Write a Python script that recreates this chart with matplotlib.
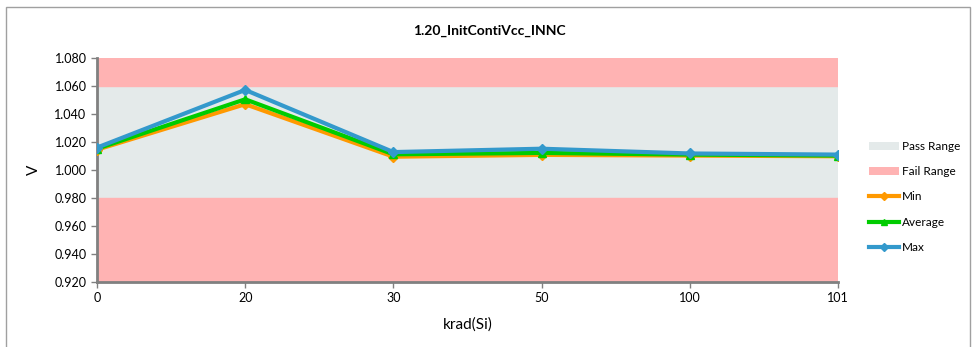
import matplotlib.pyplot as plt
from matplotlib.patches import Patch, Rectangle
from matplotlib.lines import Line2D

# chart data
categories = ['0', '20', '30', '50', '100', '101']
min_vals = [1.0145, 1.047, 1.0095, 1.0108, 1.0103, 1.0098]
avg_vals = [1.0152, 1.0505, 1.0112, 1.0122, 1.0110, 1.0103]
max_vals = [1.0160, 1.0572, 1.0128, 1.0152, 1.0118, 1.0110]
pass_low, pass_high = 0.980, 1.060
y_min, y_max = 0.920, 1.080
y_ticks = [0.920, 0.940, 0.960, 0.980, 1.000, 1.020, 1.040, 1.060, 1.080]

plt.rcParams['font.family'] = ['Lato', 'DejaVu Sans']

fig = plt.figure(figsize=(9.79, 3.47), dpi=100)
ax = fig.add_axes([97 / 979, 1 - 282 / 347, (838 - 97) / 979, (282 - 58) / 347])

x = list(range(len(categories)))

# background bands
ax.axhspan(pass_low, pass_high, color='#E4EAEA', zorder=0)
ax.axhspan(y_min, pass_low, color='#FFB3B3', zorder=0)
ax.axhspan(pass_high, y_max, color='#FFB3B3', zorder=0)

ax.plot(x, min_vals, color='#FF9900', lw=3, marker='D', ms=5, label='Min', zorder=3)
ax.plot(x, avg_vals, color='#00CC00', lw=3, marker='^', ms=6, label='Average', zorder=4)
ax.plot(x, max_vals, color='#3399CC', lw=3, marker='D', ms=5, label='Max', zorder=5)

ax.set_xlim(0, len(categories) - 1)
ax.set_ylim(y_min, y_max)
ax.set_xticks(x)
ax.set_xticklabels(categories)
ax.set_yticks(y_ticks)
ax.set_yticklabels(['%.3f' % t for t in y_ticks])
ax.tick_params(labelsize=9, color='#808080', length=4, width=1)

for s in ['top', 'right']:
    ax.spines[s].set_visible(False)
for s in ['left', 'bottom']:
    ax.spines[s].set_color('#808080')
    ax.spines[s].set_linewidth(2)

ax.set_xlabel('krad(Si)', fontsize=11, labelpad=9)
ax.set_ylabel('V', fontsize=11, labelpad=10)
fig.text(0.5, 1 - 31 / 347, '1.20_InitContiVcc_INNC', ha='center', va='center',
         fontsize=10, fontweight='bold')

handles = [
    Patch(facecolor='#E4EAEA', label='Pass Range'),
    Patch(facecolor='#FFB3B3', label='Fail Range'),
    Line2D([], [], color='#FF9900', lw=3, marker='D', ms=4, label='Min'),
    Line2D([], [], color='#00CC00', lw=3, marker='^', ms=5, label='Average'),
    Line2D([], [], color='#3399CC', lw=3, marker='D', ms=4, label='Max'),
]
fig.legend(handles=handles, loc='center left', bbox_to_anchor=(858 / 979, 1 - 197 / 347),
           frameon=False, fontsize=8.5, handlelength=2.6, handleheight=0.7,
           labelspacing=1.2, handletextpad=0.2)

# chart border
fig.patches.append(Rectangle((6 / 979, -0.01), (970 - 6) / 979, 1 - 7 / 347 + 0.01,
                             transform=fig.transFigure, fill=False,
                             edgecolor='#A0A0A0', lw=1))

fig.savefig('out.png', dpi=100)
